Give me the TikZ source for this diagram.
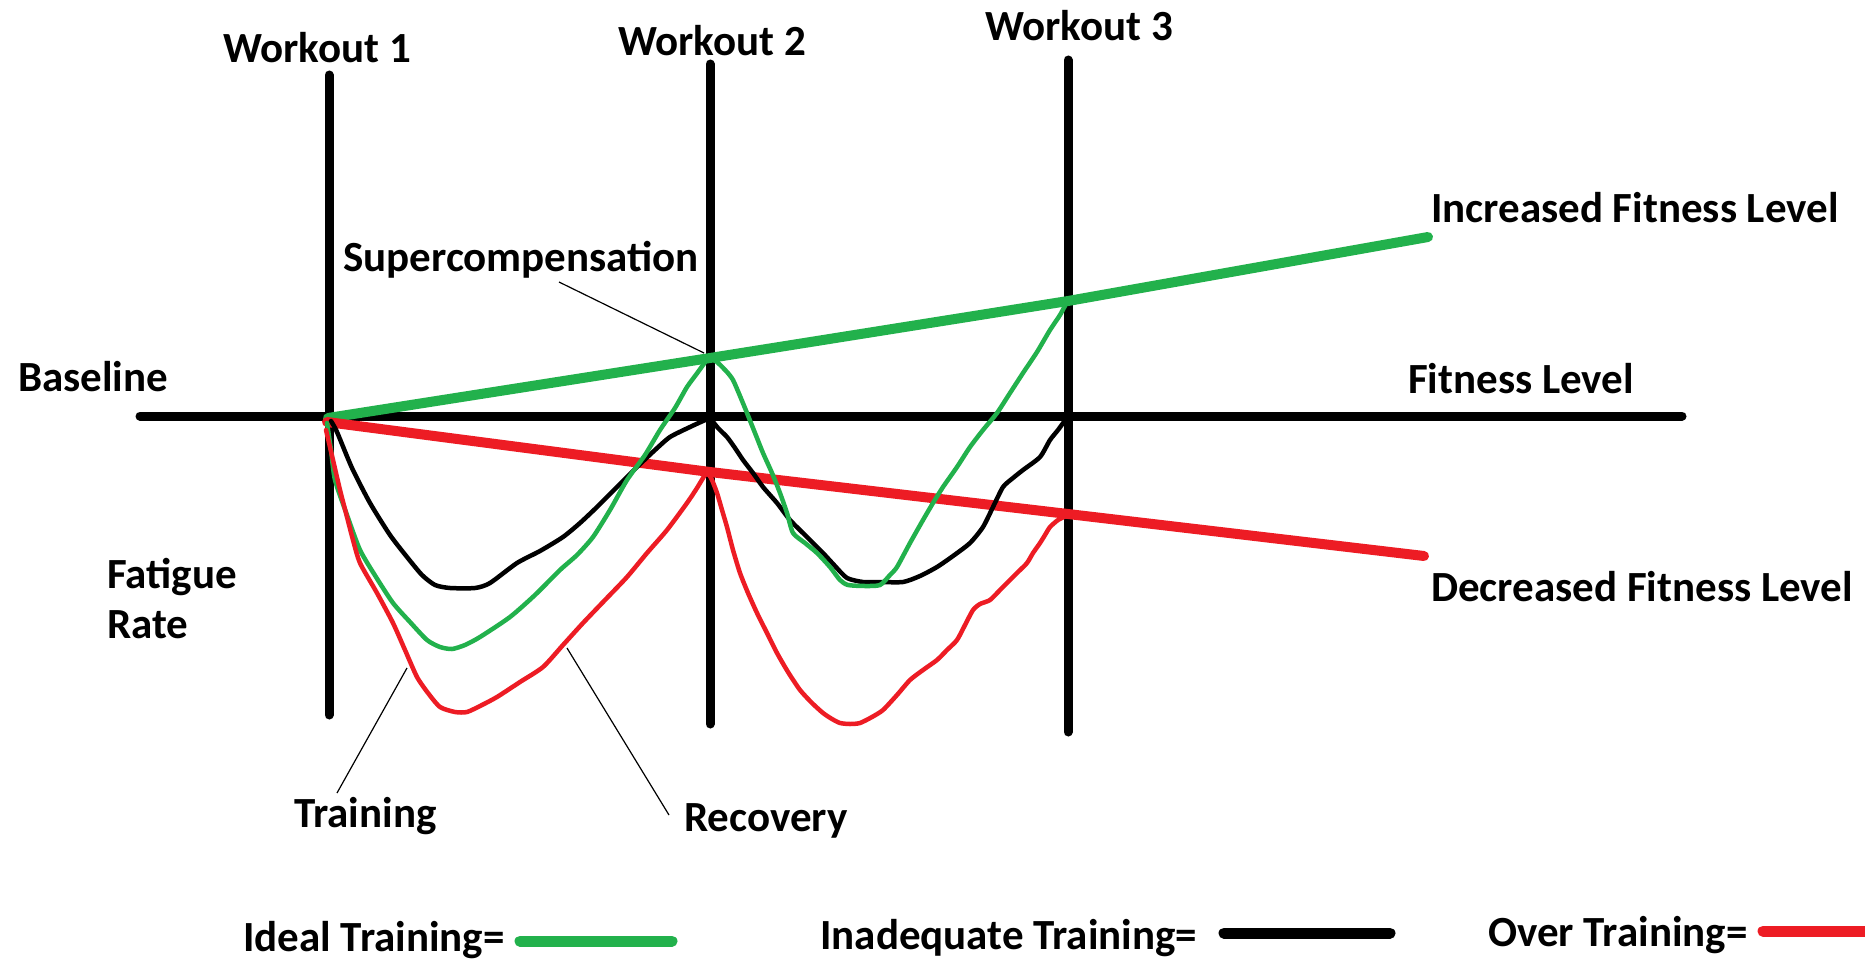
\documentclass[tikz,border=0pt]{standalone}
\usepackage{fontspec}
\setmainfont{Carlito}
\definecolor{paintgreen}{RGB}{34,177,76}
\definecolor{paintred}{RGB}{237,28,36}
\begin{document}
\begin{tikzpicture}[x=1pt,y=-1pt,
  lbl/.style={anchor=base west, inner sep=0pt, font=\fontsize{43}{50}\selectfont\bfseries},
  axisline/.style={line width=9pt, line cap=round, black},
  trendG/.style={line width=10pt, line cap=round, line join=round, paintgreen},
  trendR/.style={line width=10pt, line cap=round, line join=round, paintred},
  curveK/.style={line width=4.5pt, line cap=round, line join=round, black},
  curveG/.style={line width=4.5pt, line cap=round, line join=round, paintgreen},
  curveR/.style={line width=4.5pt, line cap=round, line join=round, paintred},
  leader/.style={line width=1.2pt, black},
  swatch/.style={line width=11pt, line cap=round},
  hand/.style={smooth, tension=0.4}
]
\path[use as bounding box, fill=white] (0,0) rectangle (1865,963);
\clip (0,0) rectangle (1865,963);

% ---- axis endpoints ----
\coordinate (bl) at (140,416);
\coordinate (br) at (1682,416);
\coordinate (w1t) at (329,75);   \coordinate (w1b) at (329,715);
\coordinate (w2t) at (710,64);   \coordinate (w2b) at (710,724);
\coordinate (w3t) at (1068,60);  \coordinate (w3b) at (1068,732);

% ---- trend points ----
\coordinate (o) at (328,418);
\coordinate (g2) at (710,358);
\coordinate (g3) at (1068,301);
\coordinate (gend) at (1428,237);
\coordinate (r2) at (710,472);
\coordinate (r3) at (1068,514);
\coordinate (rend) at (1424,556);

% ---- axes ----
\draw[axisline] (bl) -- (br);
\draw[axisline] (w1t) -- (w1b);
\draw[axisline] (w2t) -- (w2b);
\draw[axisline] (w3t) -- (w3b);

% ---- fitness trends ----
\draw[trendG] (o) -- (g2) -- (g3) -- (gend);
\draw[trendR] (327,422) -- (r2) -- (r3) -- (rend);

% ---- inadequate training ----
\draw[curveK] plot[hand] coordinates {(331,421) (337,432) (352,468) (370,503) (390,535)
  (407,557) (422,575) (435,585) (450,588) (475,588) (490,583) (517,563) (540,551)
  (563,537) (580,523) (597,507) (617,487) (637,467) (655,450) (670,437) (690,427)
  (703,421) (710,418)};
\draw[curveK] plot[hand] coordinates {(710,418) (718,428) (727,437) (735,448) (743,460)
  (753,473) (763,487) (777,503) (790,520) (807,537) (823,553) (835,566) (847,578)
  (863,582) (880,582) (903,582) (920,576) (937,567) (953,556) (970,543) (983,527)
  (993,507) (1003,487) (1013,478) (1023,470) (1040,457) (1050,440) (1058,430) (1066,419)};

% ---- ideal training ----
\draw[curveG] plot[hand] coordinates {(327,423) (331,450) (335,480) (347,515) (360,550)
  (376,577) (393,603) (410,622) (427,640) (440,647) (452,649) (465,645) (480,637)
  (510,617) (535,595) (560,570) (577,555) (593,537) (610,510) (627,480) (645,455)
  (660,430) (675,408) (687,387) (698,372) (708,358)};
\draw[curveG] plot[hand] coordinates {(710,358) (717,362) (727,372) (733,380) (740,396)
  (747,413) (755,433) (763,453) (772,473) (780,493) (787,513) (793,533) (805,543)
  (817,553) (830,567) (840,580) (848,585) (865,586) (880,585) (890,575) (897,567)
  (910,543) (923,520) (933,503) (943,487) (957,467) (970,447) (983,430) (997,413)
  (1010,393) (1023,373) (1037,352) (1050,330) (1060,315) (1067,302)};

% ---- over training ----
\draw[curveR] plot[hand] coordinates {(326,430) (333,460) (340,490) (347,517) (353,540)
  (360,563) (377,593) (393,623) (405,650) (417,677) (428,693) (440,707) (455,712)
  (467,712) (482,705) (497,697) (520,682) (543,667) (563,645) (583,623) (605,600)
  (627,577) (647,553) (667,530) (687,503) (697,488) (706,473)};
\draw[curveR] plot[hand] coordinates {(708,473) (712,480) (717,493) (722,510) (727,527)
  (733,550) (740,573) (748,593) (757,613) (767,633) (777,653) (788,672) (800,690)
  (812,703) (823,713) (832,719) (840,723) (850,724) (860,723) (872,717) (883,710)
  (897,695) (910,680) (923,670) (937,660) (947,650) (957,640) (965,625) (973,610)
  (980,604) (990,600) (1000,590) (1010,580) (1018,572) (1027,563) (1033,553)
  (1040,543) (1045,535) (1050,527) (1058,520) (1066,516)};

% ---- labels ----
\node[lbl] (wk1) at (223,63) {Workout 1};
\node[lbl] (wk2) at (618,56) {Workout 2};
\node[lbl] (wk3) at (985,41) {Workout 3};
\node[lbl] (incr) at (1431,222) {Increased Fitness Level};
\node[lbl] (super) at (343,271) {Supercompensation};
\node[lbl] (base) at (18,391) {Baseline};
\node[lbl] (fit) at (1408,393) {Fitness Level};
\node[lbl] (fat) at (107,588) {Fatigue};
\node[lbl] (rate) at (107,638) {Rate};
\node[lbl] (decr) at (1431,601) {Decreased Fitness Level};
\node[lbl] (train) at (294,827) {Training};
\node[lbl] (recov) at (684,831) {Recovery};

% ---- leader lines ----
\coordinate (superA) at (559,282);
\coordinate (superB) at (704,353);
\coordinate (trainA) at (407,668);
\coordinate (trainB) at (337,793);
\coordinate (recA) at (567,648);
\coordinate (recB) at (669,815);
\draw[leader] (superA) -- (superB);
\draw[leader] (trainA) -- (trainB);
\draw[leader] (recA) -- (recB);

% ---- legend ----
\node[lbl] (lgG) at (243,951) {Ideal Training=};
\node[lbl] (lgK) at (820,949) {Inadequate Training=};
\node[lbl] (lgR) at (1488,946) {Over Training=};
\coordinate (sgA) at (520,941); \coordinate (sgB) at (672,941);
\coordinate (skA) at (1224,933); \coordinate (skB) at (1390,933);
\coordinate (srA) at (1763,931); \coordinate (srB) at (1890,931);
\draw[swatch, paintgreen] (sgA) -- (sgB);
\draw[swatch, black] (skA) -- (skB);
\draw[swatch, paintred] (srA) -- (srB);
\end{tikzpicture}
\end{document}
